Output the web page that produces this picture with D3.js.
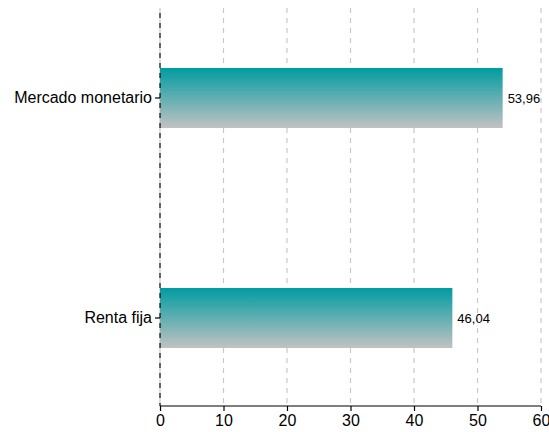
<!DOCTYPE html>
<html><head><meta charset="utf-8">
<script src="https://cdn.jsdelivr.net/npm/d3@7"></script>
<style>body{margin:0;background:#fff}svg{display:block}</style>
</head><body>
<script>
const categories = ["Mercado monetario", "Renta fija"];
const values = [53.96, 46.04];
const valueLabels = ["53,96", "46,04"];
const xTicks = [0, 10, 20, 30, 40, 50, 60];

const W = 549, H = 432;
const svg = d3.select("body").append("svg").attr("width", W).attr("height", H);
const defs = svg.append("defs");
const grad = defs.append("linearGradient").attr("id","g").attr("x1",0).attr("y1",0).attr("x2",0).attr("y2",1);
grad.append("stop").attr("offset","0%").attr("stop-color","#009ca1");
grad.append("stop").attr("offset","100%").attr("stop-color","#c2c2c2");

const x = d3.scaleLinear().domain([0,60]).range([160, 541]);
const y = d3.scaleBand().domain(categories).range([9, 407]).paddingInner(0.727).paddingOuter(0.268);

const g = svg.append("g");
g.selectAll(".grid").data(xTicks).enter().append("line")
  .attr("x1", d=>x(d)).attr("x2", d=>x(d)).attr("y1", 8).attr("y2", 406)
  .attr("stroke", "#c8c8c8").attr("stroke-width", 1.2).attr("stroke-dasharray","5,5");

g.selectAll(".bar").data(categories).enter().append("rect")
  .attr("x", x(0)).attr("y", d=>y(d)).attr("height", y.bandwidth())
  .attr("width", (d,i)=>x(values[i]) - x(0)).attr("fill","url(#g)");

g.selectAll(".vl").data(categories).enter().append("text")
  .attr("x", (d,i)=>x(values[i]) + 5).attr("y", d=>y(d)+y.bandwidth()/2)
  .attr("dy","0.35em").attr("font-family","Liberation Sans, Arial, sans-serif")
  .attr("font-size", 13).attr("fill","#000").text((d,i)=>valueLabels[i]);

const xa = svg.append("g").attr("transform","translate(0,406)")
  .call(d3.axisBottom(x).tickValues(xTicks).tickSize(5).tickPadding(4).tickFormat(d3.format("d")));
xa.select(".domain").attr("stroke","#000").attr("stroke-width",1.2).attr("d","M160,0H541");
xa.selectAll(".tick line").attr("stroke","#000").attr("stroke-width",1.2);
xa.selectAll("text").attr("font-family","Liberation Sans, Arial, sans-serif").attr("font-size",16).attr("fill","#000");

const ya = svg.append("g").attr("transform","translate(160,0)")
  .call(d3.axisLeft(y).tickSize(5).tickPadding(3));
ya.select(".domain").remove();
ya.append("line").attr("x1",0).attr("x2",0).attr("y1",8).attr("y2",406)
  .attr("stroke","#000").attr("stroke-width",1.2).attr("stroke-dasharray","5,5").attr("stroke-dashoffset",-5);
ya.selectAll(".tick line").attr("stroke","#000").attr("stroke-width",1.2);
ya.selectAll("text").attr("font-family","Liberation Sans, Arial, sans-serif").attr("font-size",16).attr("fill","#000");
</script>
</body></html>
